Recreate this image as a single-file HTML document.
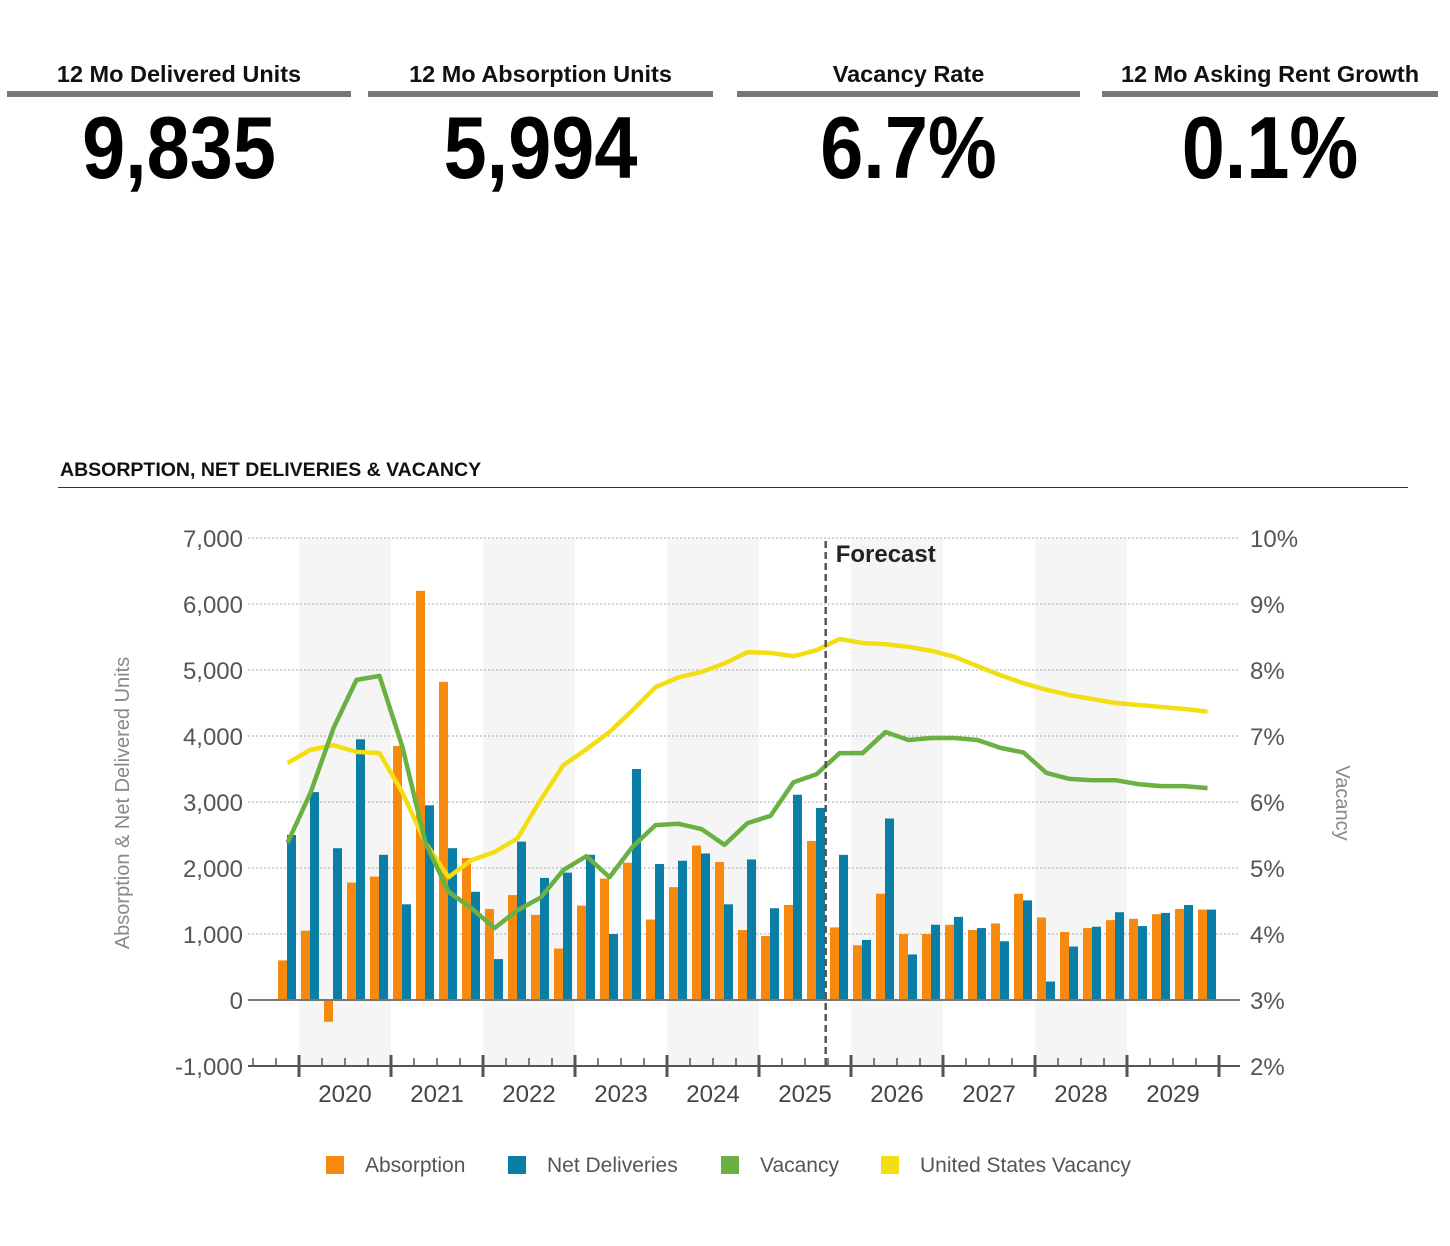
<!DOCTYPE html>
<html><head><meta charset="utf-8"><style>
body{margin:0;width:1450px;height:1246px;background:#fff;overflow:hidden;font-family:"Liberation Sans",Arial,sans-serif;position:relative}
.kpi{position:absolute;top:58px;text-align:center}
.kpi .lab{font-weight:bold;font-size:23.5px;color:#111;height:30px;line-height:32px}
.kpi .bar{height:6px;background:#777;margin-top:3px}
.kpi .val{font-weight:bold;font-size:88px;color:#000;line-height:90px;margin-top:6px;transform:scaleX(0.88)}
</style></head><body>
<div class="kpi" style="left:7px;width:344px"><div class="lab">12 Mo Delivered Units</div><div class="bar"></div><div class="val">9,835</div></div>
<div class="kpi" style="left:368px;width:345px"><div class="lab">12 Mo Absorption Units</div><div class="bar"></div><div class="val">5,994</div></div>
<div class="kpi" style="left:737px;width:343px"><div class="lab">Vacancy Rate</div><div class="bar"></div><div class="val">6.7%</div></div>
<div class="kpi" style="left:1102px;width:336px"><div class="lab">12 Mo Asking Rent Growth</div><div class="bar"></div><div class="val">0.1%</div></div>

<div style="position:absolute;left:60px;top:459px;font-weight:bold;font-size:19.5px;color:#111">ABSORPTION, NET DELIVERIES &amp; VACANCY</div>
<div style="position:absolute;left:58px;top:487px;width:1350px;height:1px;background:#333"></div>

<svg id="chart" width="1450" height="1246" style="position:absolute;left:0;top:0" xmlns="http://www.w3.org/2000/svg"></svg>
<script>
const years=["2020","2021","2022","2023","2024","2025","2026","2027","2028","2029"];
const leftTicks=[-1000,0,1000,2000,3000,4000,5000,6000,7000];
const rightTicks=["2%","3%","4%","5%","6%","7%","8%","9%","10%"];
const absorption=[600,1050,-330,1780,1870,3850,6200,4820,2150,1380,1590,1290,780,1430,1840,2080,1220,1710,2340,2090,1060,970,1440,2410,1100,830,1610,1000,1000,1140,1060,1160,1610,1250,1030,1090,1210,1230,1300,1380,1370];
const deliveries=[2500,3150,2300,3950,2200,1450,2950,2300,1640,620,2400,1850,1930,2200,1000,3500,2060,2110,2220,1450,2130,1390,3110,2910,2200,910,2750,690,1140,1260,1090,890,1510,280,810,1110,1330,1120,1320,1440,1370];
const vacancy=[5.38,6.14,7.12,7.85,7.91,6.83,5.38,4.64,4.39,4.09,4.36,4.55,4.97,5.18,4.86,5.32,5.65,5.67,5.59,5.35,5.68,5.79,6.30,6.42,6.74,6.74,7.06,6.94,6.97,6.97,6.94,6.82,6.75,6.44,6.35,6.33,6.33,6.27,6.24,6.24,6.21];
const usVacancy=[6.59,6.79,6.86,6.76,6.74,6.14,5.38,4.86,5.12,5.24,5.45,6.03,6.56,6.8,7.06,7.39,7.74,7.89,7.97,8.1,8.27,8.26,8.21,8.30,8.47,8.41,8.39,8.35,8.29,8.20,8.06,7.92,7.80,7.70,7.62,7.56,7.50,7.47,7.44,7.41,7.37];
const forecastIndex=23.9;

const svg=document.getElementById('chart');const NS='http://www.w3.org/2000/svg';
const X0=248,X1=1240,Q=23,QSTART=276;
const yL=v=>1000-v*0.066;
const yR=v=>1000-(v-3)*66;
const xq=i=>QSTART+Q*i;
function mk(t,a,p){const e=document.createElementNS(NS,t);for(const k in a)e.setAttribute(k,a[k]);(p||svg).appendChild(e);return e;}
years.forEach((y,i)=>{if(i%2===0){const r=mk('rect',{x:xq(1+4*i),y:539,width:Q*4,height:527,fill:'#f5f5f5'});

}});
leftTicks.forEach((v,i)=>{const y=yL(v);
if(v!==0&&v!==-1000){const l=mk('line',{x1:X0,x2:X1,y1:y,y2:y,stroke:'#bbb','stroke-width':1.2,'stroke-dasharray':'2,2'});

}
const t=mk('text',{x:243,y:y+9,'text-anchor':'end','font-size':24,fill:'#555'});t.textContent=v.toLocaleString('en-US');


const r=mk('text',{x:1250,y:y+9,'font-size':24,fill:'#555'});r.textContent=rightTicks[i];

});
absorption.forEach((v,i)=>{const y=yL(v),y0=yL(0);const r=mk('rect',{x:xq(i)+2,y:Math.min(y,y0),width:9,height:Math.abs(y0-y),fill:'#f7890f'});

});
deliveries.forEach((v,i)=>{const y=yL(v),y0=yL(0);const r=mk('rect',{x:xq(i)+11,y:Math.min(y,y0),width:9,height:Math.abs(y0-y),fill:'#0a7ea4'});

});
const z=mk('line',{x1:X0,x2:X1,y1:yL(0),y2:yL(0),stroke:'#777','stroke-width':2});


function line(arr,col,name){const p=mk('polyline',{points:arr.map((v,i)=>(xq(i)+11.5)+','+yR(v)).join(' '),fill:'none',stroke:col,'stroke-width':4.5,'stroke-linejoin':'round'});

}
line(usVacancy,'#f4dd12','us-vacancy-line');
line(vacancy,'#6ab042','vacancy-line');
const fx=xq(forecastIndex);
const fl=mk('line',{x1:fx,x2:fx,y1:541,y2:1066,stroke:'#555','stroke-width':2.5,'stroke-dasharray':'7,4'});


const ft=mk('text',{x:fx+10,y:562,'font-size':24,'font-weight':'bold',fill:'#222'});ft.textContent='Forecast';


const ax=mk('line',{x1:X0,x2:X1,y1:1066,y2:1066,stroke:'#555','stroke-width':2});


for(let i=-1;i<=41;i++){const x=xq(i);if(x<X0||x>X1)continue;const major=(i-1)%4===0;
const t=mk('line',{x1:x,x2:x,y1:major?1055:1058,y2:major?1077:1066,stroke:'#555','stroke-width':major?3:1.5});

}
years.forEach((y,i)=>{const t=mk('text',{x:xq(1+4*i)+Q*2,y:1102,'text-anchor':'middle','font-size':24,fill:'#444'});t.textContent=y;

});
const lt=mk('text',{x:0,y:0,'font-size':20,fill:'#888','text-anchor':'middle',transform:'translate(129,803) rotate(-90)'});lt.textContent='Absorption & Net Delivered Units';


const rt=mk('text',{x:0,y:0,'font-size':20,fill:'#888','text-anchor':'middle',transform:'translate(1336,803) rotate(90)'});rt.textContent='Vacancy';


[["Absorption","#f7890f",326],["Net Deliveries","#0a7ea4",508],["Vacancy","#6ab042",721],["United States Vacancy","#f4dd12",881]].forEach(d=>{
const g=mk('g',{});


mk('rect',{x:d[2],y:1156,width:18,height:18,fill:d[1]},g);
const t=mk('text',{x:d[2]+39,y:1172,'font-size':21,fill:'#555'},g);t.textContent=d[0];});
</script>
</body></html>
